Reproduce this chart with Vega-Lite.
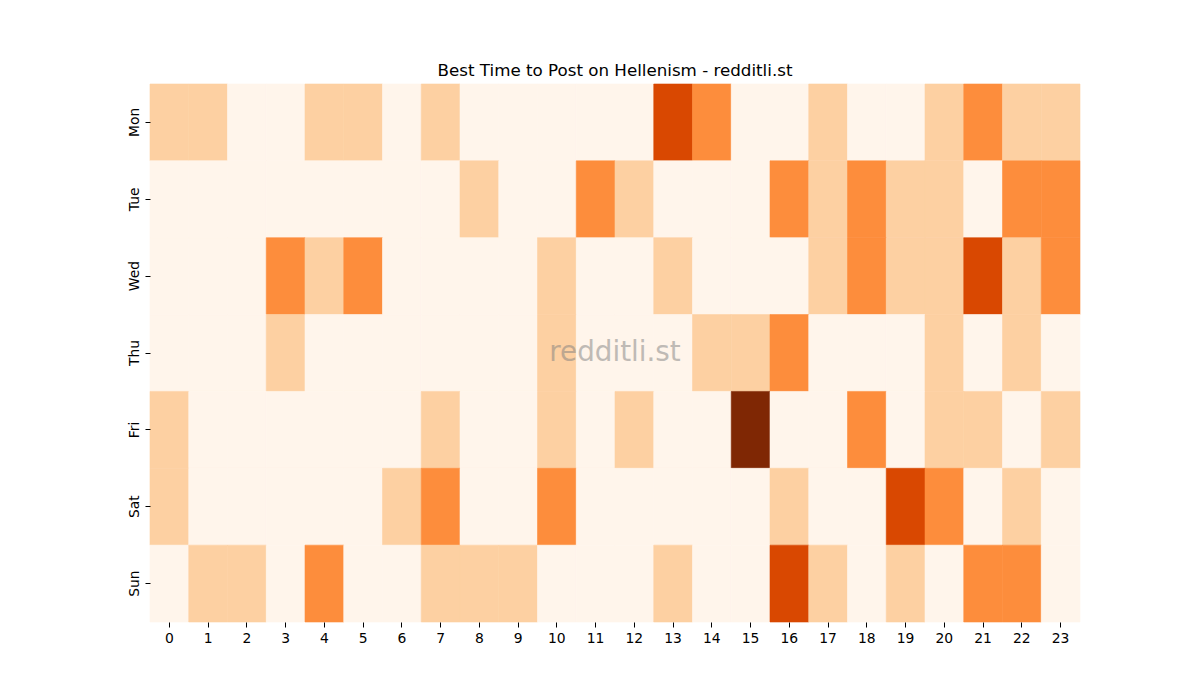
{
  "$schema": "https://vega.github.io/schema/vega-lite/v6.json",
  "width": 930,
  "height": 538,
  "autosize": {"type": "none"},
  "padding": {"left": 150, "top": 84, "right": 120, "bottom": 78},
  "background": "white",
  "config": {
    "view": {"stroke": null},
    "font": "DejaVu Sans"
  },
  "title": {
    "text": "Best Time to Post on Hellenism - redditli.st",
    "fontSize": 16.7,
    "fontWeight": "normal",
    "font": "DejaVu Sans",
    "color": "black",
    "offset": 4,
    "anchor": "middle"
  },
  "datasets": {
    "grid": [
      {"day":"Mon","hour":"0","v":1},{"day":"Mon","hour":"1","v":1},{"day":"Mon","hour":"2","v":0},{"day":"Mon","hour":"3","v":0},{"day":"Mon","hour":"4","v":1},{"day":"Mon","hour":"5","v":1},{"day":"Mon","hour":"6","v":0},{"day":"Mon","hour":"7","v":1},{"day":"Mon","hour":"8","v":0},{"day":"Mon","hour":"9","v":0},{"day":"Mon","hour":"10","v":0},{"day":"Mon","hour":"11","v":0},{"day":"Mon","hour":"12","v":0},{"day":"Mon","hour":"13","v":3},{"day":"Mon","hour":"14","v":2},{"day":"Mon","hour":"15","v":0},{"day":"Mon","hour":"16","v":0},{"day":"Mon","hour":"17","v":1},{"day":"Mon","hour":"18","v":0},{"day":"Mon","hour":"19","v":0},{"day":"Mon","hour":"20","v":1},{"day":"Mon","hour":"21","v":2},{"day":"Mon","hour":"22","v":1},{"day":"Mon","hour":"23","v":1},
      {"day":"Tue","hour":"0","v":0},{"day":"Tue","hour":"1","v":0},{"day":"Tue","hour":"2","v":0},{"day":"Tue","hour":"3","v":0},{"day":"Tue","hour":"4","v":0},{"day":"Tue","hour":"5","v":0},{"day":"Tue","hour":"6","v":0},{"day":"Tue","hour":"7","v":0},{"day":"Tue","hour":"8","v":1},{"day":"Tue","hour":"9","v":0},{"day":"Tue","hour":"10","v":0},{"day":"Tue","hour":"11","v":2},{"day":"Tue","hour":"12","v":1},{"day":"Tue","hour":"13","v":0},{"day":"Tue","hour":"14","v":0},{"day":"Tue","hour":"15","v":0},{"day":"Tue","hour":"16","v":2},{"day":"Tue","hour":"17","v":1},{"day":"Tue","hour":"18","v":2},{"day":"Tue","hour":"19","v":1},{"day":"Tue","hour":"20","v":1},{"day":"Tue","hour":"21","v":0},{"day":"Tue","hour":"22","v":2},{"day":"Tue","hour":"23","v":2},
      {"day":"Wed","hour":"0","v":0},{"day":"Wed","hour":"1","v":0},{"day":"Wed","hour":"2","v":0},{"day":"Wed","hour":"3","v":2},{"day":"Wed","hour":"4","v":1},{"day":"Wed","hour":"5","v":2},{"day":"Wed","hour":"6","v":0},{"day":"Wed","hour":"7","v":0},{"day":"Wed","hour":"8","v":0},{"day":"Wed","hour":"9","v":0},{"day":"Wed","hour":"10","v":1},{"day":"Wed","hour":"11","v":0},{"day":"Wed","hour":"12","v":0},{"day":"Wed","hour":"13","v":1},{"day":"Wed","hour":"14","v":0},{"day":"Wed","hour":"15","v":0},{"day":"Wed","hour":"16","v":0},{"day":"Wed","hour":"17","v":1},{"day":"Wed","hour":"18","v":2},{"day":"Wed","hour":"19","v":1},{"day":"Wed","hour":"20","v":1},{"day":"Wed","hour":"21","v":3},{"day":"Wed","hour":"22","v":1},{"day":"Wed","hour":"23","v":2},
      {"day":"Thu","hour":"0","v":0},{"day":"Thu","hour":"1","v":0},{"day":"Thu","hour":"2","v":0},{"day":"Thu","hour":"3","v":1},{"day":"Thu","hour":"4","v":0},{"day":"Thu","hour":"5","v":0},{"day":"Thu","hour":"6","v":0},{"day":"Thu","hour":"7","v":0},{"day":"Thu","hour":"8","v":0},{"day":"Thu","hour":"9","v":0},{"day":"Thu","hour":"10","v":1},{"day":"Thu","hour":"11","v":0},{"day":"Thu","hour":"12","v":0},{"day":"Thu","hour":"13","v":0},{"day":"Thu","hour":"14","v":1},{"day":"Thu","hour":"15","v":1},{"day":"Thu","hour":"16","v":2},{"day":"Thu","hour":"17","v":0},{"day":"Thu","hour":"18","v":0},{"day":"Thu","hour":"19","v":0},{"day":"Thu","hour":"20","v":1},{"day":"Thu","hour":"21","v":0},{"day":"Thu","hour":"22","v":1},{"day":"Thu","hour":"23","v":0},
      {"day":"Fri","hour":"0","v":1},{"day":"Fri","hour":"1","v":0},{"day":"Fri","hour":"2","v":0},{"day":"Fri","hour":"3","v":0},{"day":"Fri","hour":"4","v":0},{"day":"Fri","hour":"5","v":0},{"day":"Fri","hour":"6","v":0},{"day":"Fri","hour":"7","v":1},{"day":"Fri","hour":"8","v":0},{"day":"Fri","hour":"9","v":0},{"day":"Fri","hour":"10","v":1},{"day":"Fri","hour":"11","v":0},{"day":"Fri","hour":"12","v":1},{"day":"Fri","hour":"13","v":0},{"day":"Fri","hour":"14","v":0},{"day":"Fri","hour":"15","v":4},{"day":"Fri","hour":"16","v":0},{"day":"Fri","hour":"17","v":0},{"day":"Fri","hour":"18","v":2},{"day":"Fri","hour":"19","v":0},{"day":"Fri","hour":"20","v":1},{"day":"Fri","hour":"21","v":1},{"day":"Fri","hour":"22","v":0},{"day":"Fri","hour":"23","v":1},
      {"day":"Sat","hour":"0","v":1},{"day":"Sat","hour":"1","v":0},{"day":"Sat","hour":"2","v":0},{"day":"Sat","hour":"3","v":0},{"day":"Sat","hour":"4","v":0},{"day":"Sat","hour":"5","v":0},{"day":"Sat","hour":"6","v":1},{"day":"Sat","hour":"7","v":2},{"day":"Sat","hour":"8","v":0},{"day":"Sat","hour":"9","v":0},{"day":"Sat","hour":"10","v":2},{"day":"Sat","hour":"11","v":0},{"day":"Sat","hour":"12","v":0},{"day":"Sat","hour":"13","v":0},{"day":"Sat","hour":"14","v":0},{"day":"Sat","hour":"15","v":0},{"day":"Sat","hour":"16","v":1},{"day":"Sat","hour":"17","v":0},{"day":"Sat","hour":"18","v":0},{"day":"Sat","hour":"19","v":3},{"day":"Sat","hour":"20","v":2},{"day":"Sat","hour":"21","v":0},{"day":"Sat","hour":"22","v":1},{"day":"Sat","hour":"23","v":0},
      {"day":"Sun","hour":"0","v":0},{"day":"Sun","hour":"1","v":1},{"day":"Sun","hour":"2","v":1},{"day":"Sun","hour":"3","v":0},{"day":"Sun","hour":"4","v":2},{"day":"Sun","hour":"5","v":0},{"day":"Sun","hour":"6","v":0},{"day":"Sun","hour":"7","v":1},{"day":"Sun","hour":"8","v":1},{"day":"Sun","hour":"9","v":1},{"day":"Sun","hour":"10","v":0},{"day":"Sun","hour":"11","v":0},{"day":"Sun","hour":"12","v":0},{"day":"Sun","hour":"13","v":1},{"day":"Sun","hour":"14","v":0},{"day":"Sun","hour":"15","v":0},{"day":"Sun","hour":"16","v":3},{"day":"Sun","hour":"17","v":1},{"day":"Sun","hour":"18","v":0},{"day":"Sun","hour":"19","v":1},{"day":"Sun","hour":"20","v":0},{"day":"Sun","hour":"21","v":2},{"day":"Sun","hour":"22","v":2},{"day":"Sun","hour":"23","v":0}
    ],
    "mark": [{"label": "redditli.st", "hour": "12", "day": "Thu"}]
  },
  "layer": [
    {
      "data": {"name": "grid"},
      "mark": {"type": "rect", "strokeWidth": 0.6},
      "encoding": {
        "x": {
          "field": "hour", "type": "ordinal",
          "scale": {"domain": ["0","1","2","3","4","5","6","7","8","9","10","11","12","13","14","15","16","17","18","19","20","21","22","23"], "paddingInner": 0, "paddingOuter": 0},
          "axis": {
            "title": null, "labelAngle": 0, "domain": false, "grid": false,
            "tickSize": 5, "tickColor": "black", "tickWidth": 1,
            "labelFontSize": 13.9, "labelColor": "black", "labelFont": "DejaVu Sans", "labelPadding": 4
          }
        },
        "y": {
          "field": "day", "type": "ordinal",
          "scale": {"domain": ["Mon","Tue","Wed","Thu","Fri","Sat","Sun"], "paddingInner": 0, "paddingOuter": 0},
          "axis": {
            "title": null, "labelAngle": -90, "domain": false, "grid": false,
            "tickSize": 5, "tickColor": "black", "tickWidth": 1,
            "labelFontSize": 13.9, "labelColor": "black", "labelFont": "DejaVu Sans",
            "labelAlign": "center", "labelBaseline": "bottom", "labelPadding": 4
          }
        },
        "color": {
          "field": "v", "type": "ordinal",
          "scale": {"domain": [0,1,2,3,4], "range": ["#fff5eb","#fdd0a2","#fd8d3c","#d94801","#7f2704"]},
          "legend": null
        },
        "stroke": {
          "field": "v", "type": "ordinal",
          "scale": {"domain": [0,1,2,3,4], "range": ["#fff5eb","#fdd0a2","#fd8d3c","#d94801","#7f2704"]},
          "legend": null
        }
      }
    },
    {
      "data": {"name": "mark"},
      "mark": {"type": "text", "fontSize": 27.8, "color": "gray", "opacity": 0.5, "align": "center", "baseline": "middle", "font": "DejaVu Sans"},
      "encoding": {
        "x": {"field": "hour", "type": "ordinal", "bandPosition": 0},
        "y": {"field": "day", "type": "ordinal", "bandPosition": 0.5},
        "text": {"field": "label"}
      }
    }
  ]
}
